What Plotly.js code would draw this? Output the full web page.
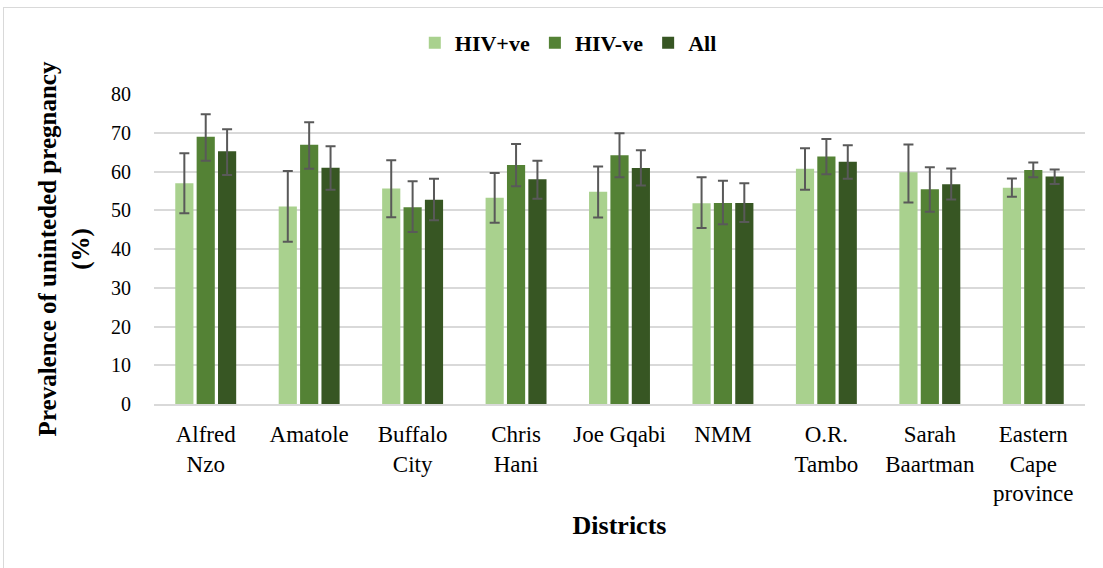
<!DOCTYPE html>
<html>
<head>
<meta charset="utf-8">
<script src="https://cdn.plot.ly/plotly-3.0.1.min.js"></script>
<style>
  html, body { margin: 0; padding: 0; background: #fff; }
  #wrap { position: relative; width: 1103px; height: 568px; }
  #chart { width: 1103px; height: 568px; }
  #frame { position: absolute; left: 3px; top: 7px; width: 1110px; height: 570px; border: 1px solid #d9d9d9; pointer-events: none; }
</style>
</head>
<body>
<div id="wrap">
  <div id="chart"></div>
  <div id="frame"></div>
</div>
<script>
const categories = ["Alfred<br>Nzo", "Amatole", "Buffalo<br>City", "Chris<br>Hani", "Joe Gqabi", "NMM", "O.R.<br>Tambo", "Sarah<br>Baartman", "Eastern<br>Cape<br>province"];
const seriesNames = ["HIV+ve", "HIV-ve", "All"];

const hivPos      = [57.0, 51.0, 55.6, 53.2, 54.8, 51.8, 60.7, 59.8, 55.8];
const hivPosLow   = [49.2, 41.9, 48.2, 46.8, 48.1, 45.4, 55.3, 52.0, 53.5];
const hivPosHigh  = [64.7, 60.1, 62.9, 59.6, 61.3, 58.5, 66.0, 67.0, 58.2];

const hivNeg      = [69.0, 66.9, 50.8, 61.7, 64.2, 51.9, 63.9, 55.4, 60.4];
const hivNegLow   = [62.8, 60.7, 44.4, 56.2, 58.5, 46.4, 59.3, 49.6, 58.5];
const hivNegHigh  = [74.8, 72.7, 57.5, 67.1, 69.9, 57.6, 68.4, 61.1, 62.3];

const allVal      = [65.2, 61.0, 52.7, 58.0, 60.9, 51.9, 62.5, 56.7, 58.7];
const allLow      = [59.1, 55.3, 47.4, 53.0, 56.4, 47.0, 58.1, 52.8, 56.8];
const allHigh     = [70.9, 66.5, 58.1, 62.8, 65.5, 57.0, 66.8, 60.8, 60.5];

const colors = ["#A9D18E", "#548235", "#375623"];
const serif = "Liberation Serif";

function mk(name, vals, lo, hi, color) {
  return {
    type: "bar",
    name: name,
    x: categories,
    y: vals,
    marker: { color: color },
    error_y: {
      type: "data",
      symmetric: false,
      array: vals.map((v, i) => hi[i] - v),
      arrayminus: vals.map((v, i) => v - lo[i]),
      color: "#595959",
      thickness: 2,
      width: 5
    }
  };
}

const data = [
  mk(seriesNames[0], hivPos, hivPosLow, hivPosHigh, colors[0]),
  mk(seriesNames[1], hivNeg, hivNegLow, hivNegHigh, colors[1]),
  mk(seriesNames[2], allVal, allLow, allHigh, colors[2])
];

const layout = {
  width: 1103,
  height: 568,
  margin: { l: 154, r: 18, t: 94, b: 164 },
  paper_bgcolor: "#ffffff",
  plot_bgcolor: "#ffffff",
  font: { family: serif, color: "#000" },
  barmode: "group",
  bargap: 0.38,
  bargroupgap: 0.15,
  showlegend: true,
  legend: {
    orientation: "h",
    x: 0.445, xanchor: "center",
    y: 1.165, yanchor: "middle",
    font: { size: 22, family: serif, weight: "bold" },
    itemwidth: 30,
    traceorder: "normal"
  },
  xaxis: {
    type: "category",
    tickfont: { size: 23, family: serif },
    showline: true,
    linecolor: "#d9d9d9",
    linewidth: 2,
    ticks: "",
    ticklabelstandoff: 8,
    title: { text: "<b>Districts</b>", font: { size: 26, family: serif }, standoff: 10 }
  },
  yaxis: {
    range: [0, 80],
    dtick: 10,
    tickfont: { size: 20, family: serif },
    showgrid: true,
    gridcolor: "#d9d9d9",
    gridwidth: 2,
    zeroline: false,
    showline: false,
    ticks: "",
    ticklabelstandoff: 22,
    title: { text: "<b>Prevalence of uninteded pregnancy<br>(%)</b>", font: { size: 25, family: serif }, standoff: 14 }
  }
};

Plotly.newPlot("chart", data, layout, { displayModeBar: false, staticPlot: true });
</script>
</body>
</html>
